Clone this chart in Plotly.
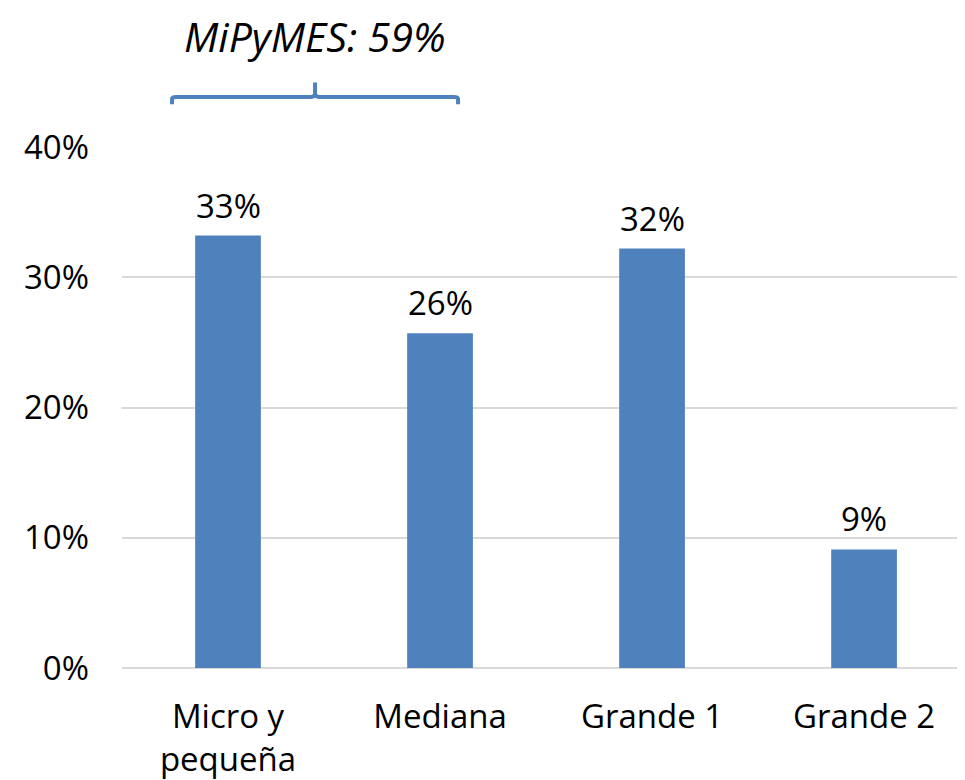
import plotly.graph_objects as go

categories = ["Micro y<br>pequeña", "Mediana", "Grande 1", "Grande 2"]
shares = [0.332, 0.257, 0.322, 0.091]
tick_vals = [0, 0.1, 0.2, 0.3, 0.4]
tick_text = ["0%", "10%", "20%", "30%", "40%"]
bracket_label = "MiPyMES: 59%"

FONT = "Open Sans"
BLUE = "#4F81BD"
FS = 33

fig = go.Figure()
fig.add_trace(go.Bar(
    x=list(range(len(categories))), y=shares,
    marker=dict(color=BLUE, line=dict(width=0)),
    width=0.31, hoverinfo="skip",
))

for i, v in enumerate(shares):
    fig.add_annotation(x=i, y=v, text=f"{v:.0%}", showarrow=False,
                       xref="x", yref="y", yanchor="bottom", yshift=6,
                       font=dict(family=FONT, size=FS, color="#000"))

# bracket over first two categories
x0, x1 = -0.264, 1.085
xm = (x0 + x1) / 2
path = (f"M {x0},1.082 L {x0},1.092 Q {x0},1.096 {x0+0.02},1.096 "
        f"L {xm-0.02},1.096 Q {xm},1.096 {xm},1.102 L {xm},1.124 "
        f"M {xm},1.102 Q {xm},1.096 {xm+0.02},1.096 L {x1-0.02},1.096 "
        f"Q {x1},1.096 {x1},1.092 L {x1},1.082")
fig.add_shape(type="path", path=path, xref="x", yref="paper",
              line=dict(color=BLUE, width=4))
fig.add_annotation(x=xm, y=1.213, xref="x", yref="paper", yanchor="middle",
                   text=f"<i>{bracket_label}</i>", showarrow=False,
                   borderpad=0,
                   font=dict(family=FONT, size=41, color="#000"))

fig.update_layout(
    width=957, height=772,
    margin=dict(l=114, r=0, t=139, b=112),
    paper_bgcolor="white", plot_bgcolor="white",
    showlegend=False,
    font=dict(family=FONT, size=FS, color="#000"),
)
fig.update_xaxes(range=[-0.5, 3.476], tickmode="array",
                 tickvals=list(range(len(categories))), ticktext=categories,
                 showgrid=False, zeroline=False, showline=False, ticks="",
                 ticklabelstandoff=26, tickfont=dict(family=FONT, size=FS))
fig.update_yaxes(range=[0, 0.4], tickmode="array", tickvals=tick_vals,
                 ticktext=tick_text, showgrid=True, gridcolor="#D9D9D9",
                 gridwidth=2, zeroline=True, zerolinecolor="#D9D9D9",
                 zerolinewidth=2, showline=False, ticks="",
                 ticklabelstandoff=32, tickfont=dict(family=FONT, size=FS))

fig.write_html("out.html")
